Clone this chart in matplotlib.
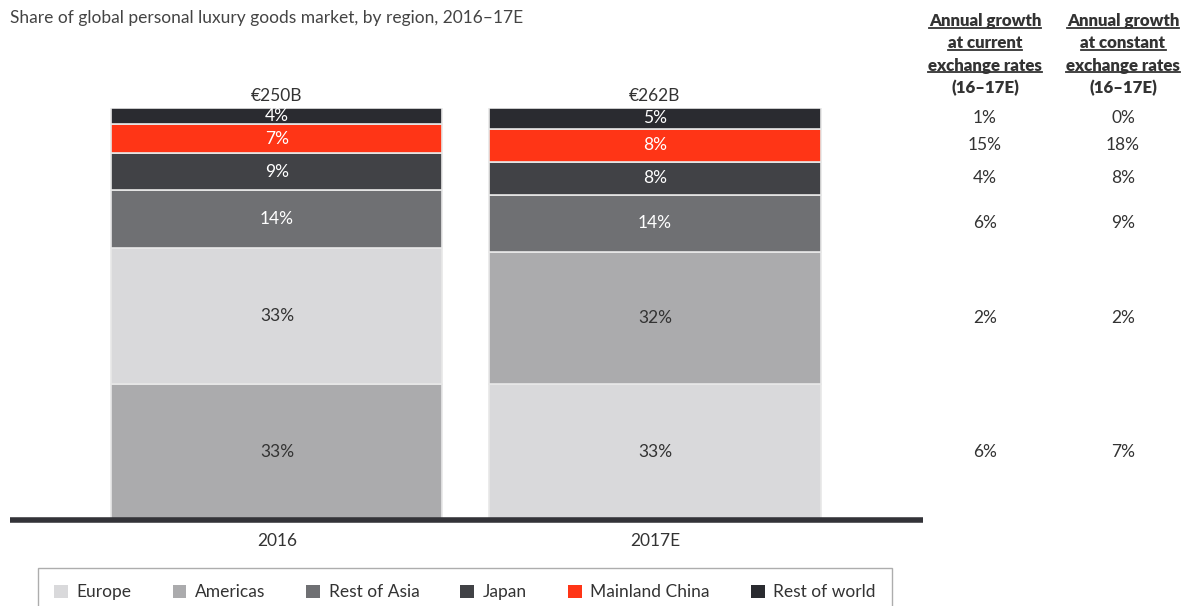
import numpy as np
import matplotlib.pyplot as plt
import matplotlib.transforms as mtrans
from matplotlib.lines import Line2D
from matplotlib.patches import Patch

plt.rcParams['font.family'] = ['Lato', 'DejaVu Sans']

years = ['2016', '2017E']
totals = ['€250B', '€262B']
regions = ['Europe', 'Americas', 'Rest of Asia', 'Japan', 'Mainland China', 'Rest of world']
colors = {'Europe': '#d9d9db', 'Americas': '#ababad', 'Rest of Asia': '#6f7073',
          'Japan': '#414246', 'Mainland China': '#ff3516', 'Rest of world': '#2a2b30'}

# stacking order from bottom, per year
order_2016 = ['Americas', 'Europe', 'Rest of Asia', 'Japan', 'Mainland China', 'Rest of world']
share_2016 = [33, 33, 14, 9, 7, 4]
order_2017 = ['Europe', 'Americas', 'Rest of Asia', 'Japan', 'Mainland China', 'Rest of world']
share_2017 = [33, 32, 14, 8, 8, 5]

# growth (same order as 2017E stack)
growth_current = ['6%', '2%', '6%', '4%', '15%', '1%']
growth_constant = ['7%', '2%', '9%', '8%', '18%', '0%']

W, H = 1190, 606
fs = 12.5
fig = plt.figure(figsize=(W / 100, H / 100), dpi=100)
ax = fig.add_axes([10 / W, 1 - 520 / H, 913 / W, 412 / H])
ax.set_xlim(-0.706, 1.709)
ax.set_ylim(0, 100)

dark_text = ['Europe', 'Americas']
for i, (order, share) in enumerate([(order_2016, share_2016), (order_2017, share_2017)]):
    bottom = 0
    for reg, val in zip(order, share):
        ax.bar(i, val, bottom=bottom, width=0.876, color=colors[reg],
               edgecolor='#e8e8e8', linewidth=1.2)
        tc = '#333333' if reg in dark_text else 'white'
        ax.text(i, bottom + val / 2, f'{val}%', ha='center', va='center',
                fontsize=fs, color=tc)
        bottom += val
    ax.text(i, bottom + 1.0, totals[i], ha='center', va='bottom', fontsize=fs, color='#333333')

for s in ax.spines.values():
    s.set_visible(False)
ax.axhline(0, color='#333338', linewidth=4, clip_on=False, zorder=5, solid_capstyle='butt')
ax.set_yticks([])
ax.set_xticks([0, 1])
ax.set_xticklabels(years, fontsize=fs, color='#333333')
ax.tick_params(axis='x', length=0, pad=9)

fig.text(10 / W, 1 - 18 / H, 'Share of global personal luxury goods market, by region, 2016–17E',
         fontsize=fs, color='#444444', va='center', ha='left')

# growth columns
tr = mtrans.blended_transform_factory(fig.transFigure, ax.transData)
mids = np.cumsum(share_2017) - np.array(share_2017) / 2
for y, a, b in zip(mids, growth_current, growth_constant):
    ax.text(985 / W, y, a, transform=tr, ha='center', va='center', fontsize=fs, color='#333333')
    ax.text(1123 / W, y, b, transform=tr, ha='center', va='center', fontsize=fs, color='#333333')

header_lines = ['Annual growth', 'at current', 'exchange rates', '(16–17E)']
header_lines2 = ['Annual growth', 'at constant', 'exchange rates', '(16–17E)']
hdr = []
for cx, lines in [(985, header_lines), (1123, header_lines2)]:
    for k, line in enumerate(lines):
        t = fig.text(cx / W, 1 - (21 + k * 22.3) / H, line, ha='center', va='center',
                     fontsize=12.2, fontweight='heavy', color='#333333')
        if k < 3:
            hdr.append(t)

fig.canvas.draw()
r = fig.canvas.get_renderer()
for t in hdr:
    bb = t.get_window_extent(r)
    y = bb.y0 + 1.5
    fig.add_artist(Line2D([bb.x0 / W, bb.x1 / W], [y / H, y / H], transform=fig.transFigure,
                          color='#333333', linewidth=1.3))

handles = [Patch(facecolor=colors[r_], edgecolor='none', label=r_) for r_ in regions]
leg = fig.legend(handles=handles, loc='upper center', bbox_to_anchor=(465 / W, 1 - 568 / H),
                 ncol=6, fontsize=fs, frameon=True, fancybox=False, handlelength=0.8,
                 handleheight=0.8, handletextpad=0.5, columnspacing=2.35, borderpad=0.95,
                 borderaxespad=0, labelcolor='#333333')
leg.get_frame().set_edgecolor('#999999')
leg.get_frame().set_linewidth(1)

fig.savefig('out.png', dpi=100)
